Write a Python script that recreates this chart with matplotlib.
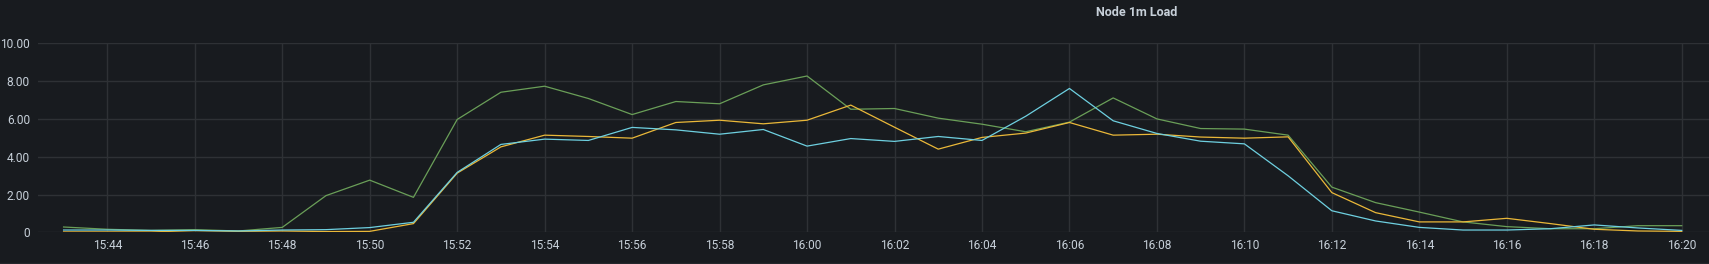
import pandas as pd
import matplotlib.pyplot as plt
import matplotlib.dates as mdates
from matplotlib.lines import Line2D

# Dados de carga (1 minuto) por nó, de 15:43 a 16:20
horarios = pd.date_range("2024-01-01 15:43", "2024-01-01 16:20", freq="1min")

carga_verde = [0.28, 0.16, 0.10, 0.14, 0.07, 0.26, 1.94, 2.76, 1.85, 5.97,
               7.41, 7.73, 7.08, 6.23, 6.92, 6.80, 7.80, 8.27, 6.51, 6.55,
               6.04, 5.72, 5.32, 5.83, 7.11, 6.00, 5.49, 5.46, 5.14, 2.39,
               1.57, 1.07, 0.55, 0.30, 0.19, 0.19, 0.35, 0.35]
carga_amarela = [0.02, 0.02, 0.02, 0.09, 0.05, 0.07, 0.04, 0.05, 0.46, 3.13,
                 4.52, 5.14, 5.07, 4.98, 5.81, 5.93, 5.74, 5.93, 6.73, 5.56,
                 4.40, 5.02, 5.25, 5.81, 5.14, 5.19, 5.04, 4.98, 5.05, 2.10,
                 1.04, 0.55, 0.55, 0.74, 0.46, 0.16, 0.07, 0.05]
carga_azul = [0.12, 0.12, 0.10, 0.10, 0.07, 0.12, 0.14, 0.25, 0.53, 3.17,
              4.65, 4.93, 4.86, 5.55, 5.42, 5.19, 5.44, 4.56, 4.96, 4.81,
              5.07, 4.86, 6.14, 7.61, 5.90, 5.23, 4.82, 4.68, 2.99, 1.14,
              0.60, 0.26, 0.12, 0.12, 0.19, 0.39, 0.23, 0.10]

series = [
    (carga_verde, "#6a9f58"),
    (carga_amarela, "#eab839"),
    (carga_azul, "#6ed0e0"),
]

fundo = "#181b1f"
cor_texto = "#c7d0d9"
cor_grade = "#2e3135"

plt.rcParams["font.family"] = ["Roboto", "DejaVu Sans"]

W, H = 1709, 264
fig = plt.figure(figsize=(W / 100, H / 100), dpi=100, facecolor=fundo)
ax = fig.add_axes([38.3 / W, (H - 232.3) / H, (W - 38.3) / W, 189 / H])
ax.set_facecolor(fundo)

for valores, cor in series:
    ax.plot(horarios, valores, color=cor, lw=0.9, solid_joinstyle="round")

inicio = pd.Timestamp("2024-01-01 15:44")
fim = pd.Timestamp("2024-01-01 16:20")
ax.set_xlim(inicio - pd.Timedelta(minutes=1.578), fim + pd.Timedelta(minutes=0.624))
ax.set_ylim(0, 10)

ax.set_yticks([0, 2, 4, 6, 8, 10])
ax.set_yticklabels(["0", "2.00", "4.00", "6.00", "8.00", "10.00"])
ax.xaxis.set_major_locator(mdates.MinuteLocator(byminute=range(0, 60, 2)))
ax.xaxis.set_major_formatter(mdates.DateFormatter("%H:%M"))

ax.grid(True, color=cor_grade, lw=1.0)
ax.set_axisbelow(True)
for lado in ax.spines.values():
    lado.set_visible(False)
ax.tick_params(length=0, colors=cor_texto, labelsize=8.6)
ax.tick_params(axis="y", pad=6)
ax.tick_params(axis="x", pad=5)

fig.text(1136.5 / W, 1 - 12.7 / H, "Node 1m Load", ha="center", va="center",
         color=cor_texto, fontsize=9, fontweight="bold")

# linha discreta na borda inferior do painel
fig.add_artist(Line2D([0, 1], [1 - 262.5 / H] * 2, transform=fig.transFigure,
                      color="#24272b", lw=1))

fig.savefig("out.png", dpi=100, facecolor=fundo)
